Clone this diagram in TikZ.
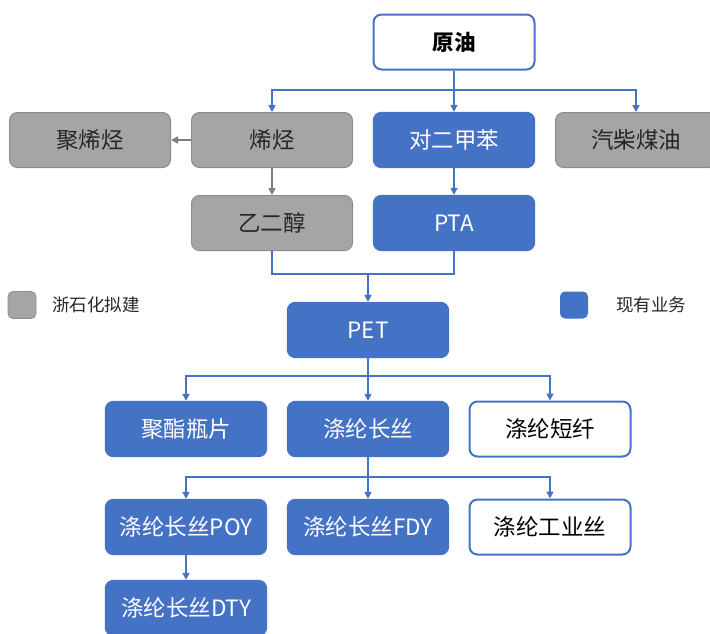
\documentclass[tikz,border=0pt]{standalone}
\usepackage{fontspec}
\setmainfont{Noto Sans CJK SC}
\usetikzlibrary{arrows.meta}
\definecolor{pblue}{HTML}{4472C4}
\definecolor{pgray}{HTML}{A5A5A5}
\definecolor{pgrayline}{HTML}{8C8C8C}
\definecolor{parrowgray}{HTML}{7F7F7F}
\tikzset{
  box/.style={rounded corners=8pt, minimum width=161pt, minimum height=55pt,
    line width=1.4pt, inner sep=0pt, font=\fontsize{22.5}{26}\selectfont},
  bluebox/.style={box, fill=pblue, draw=pblue, text=white},
  graybox/.style={box, fill=pgray, draw=pgrayline, line width=1pt, text=black!85},
  whitebox/.style={box, fill=white, draw=pblue, line width=2pt, text=black},
  link/.style={draw=pblue, line width=1.6pt},
  arr/.style={link, -{Triangle[length=7pt,width=7pt]}},
  grayarr/.style={draw=parrowgray, line width=1.6pt, -{Triangle[length=7pt,width=7pt]}},
  legendbox/.style={rounded corners=5pt, minimum width=28pt, minimum height=27pt, inner sep=0pt},
  legendtext/.style={anchor=west, inner sep=0pt, font=\fontsize{17.5}{21}\selectfont, text=black!85},
}
\begin{document}
\begin{tikzpicture}[x=1pt, y=-1pt]
\useasboundingbox (0,0) rectangle (710,633);
\begin{scope}
\clip (0,0) rectangle (710,633);
% first tier
\node[whitebox, font=\fontsize{21.5}{25}\selectfont\bfseries] (crude) at (454,42) {原油};
% second tier
\node[graybox] (polyolefin) at (90,140) {聚烯烃};
\node[graybox] (olefin) at (272,140) {烯烃};
\node[bluebox] (px) at (454,140) {对二甲苯};
\node[graybox] (fuel) at (636,140) {汽柴煤油};
% third tier
\node[graybox] (meg) at (272,223) {乙二醇};
\node[bluebox] (pta) at (454,223) {PTA};
% PET and products
\node[bluebox] (pet) at (368,330) {PET};
\node[bluebox] (chip) at (186,429) {聚酯瓶片};
\node[bluebox] (fil) at (368,429) {涤纶长丝};
\node[whitebox] (staple) at (550,429) {涤纶短纤};
\node[bluebox] (poy) at (186,527) {涤纶长丝POY};
\node[bluebox] (fdy) at (368,527) {涤纶长丝FDY};
\node[whitebox] (ind) at (550,527) {涤纶工业丝};
\node[bluebox] (dty) at (186,608) {涤纶长丝DTY};

% legend
\node[legendbox, fill=pgray, draw=pgrayline, line width=0.8pt] (lgray) at (22,305) {};
\node[legendtext] (lgraytxt) at (52,305) {浙石化拟建};
\node[legendbox, fill=pblue] (lblue) at (574,305) {};
\node[legendtext] (lbluetxt) at (616,305) {现有业务};

% crude oil split
\coordinate (bus1) at (454,90);
\draw[link] (crude.south) -- (bus1);
\draw[arr] (bus1) -| (olefin.north);
\draw[arr] (bus1) -- (px.north);
\draw[arr] (bus1) -| (fuel.north);

% olefin chain
\draw[grayarr] (olefin.west) -- (polyolefin.east);
\draw[grayarr] (olefin.south) -- (meg.north);
\draw[arr] (px.south) -- (pta.north);

% MEG + PTA into PET
\coordinate (bus2) at (368,274);
\draw[link] (meg.south) |- (bus2);
\draw[link] (pta.south) |- (bus2);
\draw[arr] (bus2) -- (pet.north);

% PET products
\coordinate (bus3) at (368,376);
\draw[link] (pet.south) -- (bus3);
\draw[arr] (bus3) -| (chip.north);
\draw[arr] (bus3) -- (fil.north);
\draw[arr] (bus3) -| (staple.north);

% filament products
\coordinate (bus4) at (368,477);
\draw[link] (fil.south) -- (bus4);
\draw[arr] (bus4) -| (poy.north);
\draw[arr] (bus4) -- (fdy.north);
\draw[arr] (bus4) -| (ind.north);
\draw[arr] (poy.south) -- (dty.north);
\end{scope}
\end{tikzpicture}
\end{document}
